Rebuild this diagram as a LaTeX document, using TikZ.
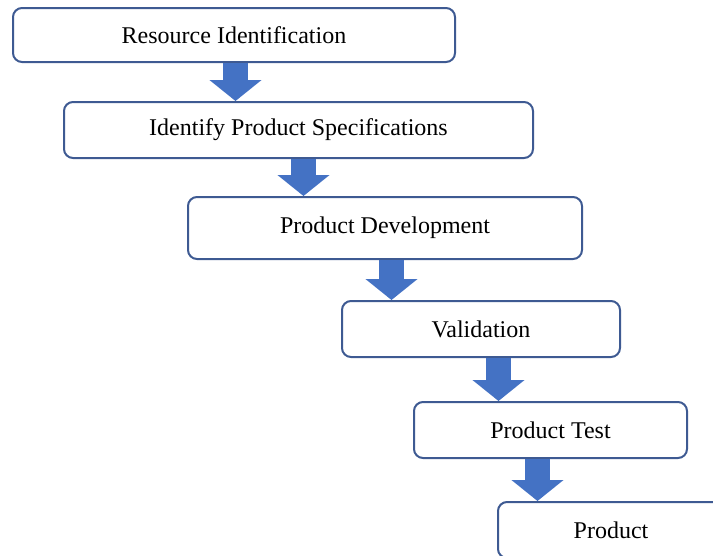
\documentclass[tikz,border=0pt]{standalone}
\usepackage{fontspec}
\setmainfont{Liberation Serif}
\usetikzlibrary{
  arrows.meta,
  positioning
}
\definecolor{boxline}{HTML}{3E5A92}
\definecolor{arrowfill}{HTML}{4472C4}

\begin{document}
\begin{tikzpicture}[
  x=1pt, y=-1pt,
  font=\fontsize{24}{28}\selectfont,
  stage/.style={
    rectangle, rounded corners=9pt,
    draw=boxline, line width=2pt, fill=white,
    inner sep=0pt, align=center
  },
  flow/.style={-{Triangle[length=21pt, width=51pt]}, arrowfill, line width=25pt},
]
\useasboundingbox (0,0) rectangle (713,555);
\clip (0,0) rectangle (713,555);

% stages, stepping down to the right
\node[stage, minimum width=442pt, minimum height=54pt] (res)   at (234,35)    {Resource Identification};
\node[stage, minimum width=469pt, minimum height=56pt] (spec)  at (298.5,130) {Identify Product Specifications};
\node[stage, minimum width=394pt, minimum height=62pt] (dev)   at (385,228)   {Product Development};
\node[stage, minimum width=278pt, minimum height=56pt] (valid) at (481,329)   {Validation};
\node[stage, minimum width=273pt, minimum height=56pt] (test)  at (550.5,430) {Product Test};
\node[stage, minimum width=226pt, minimum height=56pt] (prod)  at (611,530)   {Product};

% block arrows between stages
\coordinate (a1) at (235.5,0);
\coordinate (a2) at (303.5,0);
\coordinate (a3) at (391.5,0);
\coordinate (a4) at (498.5,0);
\coordinate (a5) at (537.5,0);
\draw[flow] (res.south -| a1)   -- (spec.north -| a1);
\draw[flow] (spec.south -| a2)  -- (dev.north -| a2);
\draw[flow] (dev.south -| a3)   -- (valid.north -| a3);
\draw[flow] (valid.south -| a4) -- (test.north -| a4);
\draw[flow] (test.south -| a5)  -- (prod.north -| a5);

\end{tikzpicture}
\end{document}
